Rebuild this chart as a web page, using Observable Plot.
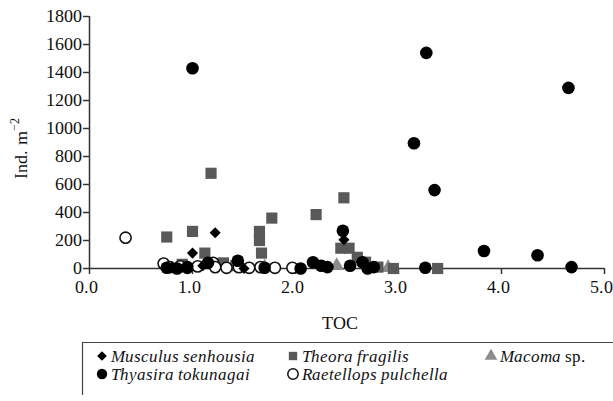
<!DOCTYPE html>
<html><head><meta charset="utf-8">
<script src="https://cdn.jsdelivr.net/npm/d3@7"></script>
<script src="https://cdn.jsdelivr.net/npm/@observablehq/plot@0.6"></script>
<style>
@font-face{font-family:"RefSerif";src:local("Liberation Serif"),local("LiberationSerif");font-style:normal;font-weight:400}
@font-face{font-family:"RefSerif";src:local("Liberation Serif Italic"),local("LiberationSerif-Italic");font-style:italic;font-weight:400}
</style>
</head><body style="margin:0">
<div id="wrap" style="position:relative;width:613px;height:401px">
<svg id="legend" width="613" height="401" style="position:absolute;left:0;top:0">
  <path d="M82.5,395 V342.5 H613" fill="none" stroke="#444" stroke-width="1.2"></path>
  <text x="111" y="362" font-family="RefSerif, Liberation Serif, serif" font-size="17" fill="#111"><tspan font-style="italic">Musculus senhousia</tspan></text>
  <text x="302" y="362" font-family="RefSerif, Liberation Serif, serif" font-size="17" fill="#111"><tspan font-style="italic">Theora fragilis</tspan></text>
  <text x="500" y="362" font-family="RefSerif, Liberation Serif, serif" font-size="17" fill="#111"><tspan font-style="italic">Macoma</tspan> sp.</text>
  <text x="111" y="380" font-family="RefSerif, Liberation Serif, serif" font-size="17" fill="#111"><tspan font-style="italic">Thyasira tokunagai</tspan></text>
  <text x="302" y="380" font-family="RefSerif, Liberation Serif, serif" font-size="17" fill="#111"><tspan font-style="italic">Raetellops pulchella</tspan></text>
  <text x="340" y="329" text-anchor="middle" font-family="RefSerif, Liberation Serif, serif" font-size="18" fill="#111">TOC</text>
</svg>
</div>
<script>
// Data
const xTicks = [0, 1, 2, 3, 4, 5];
const yTicks = [0, 200, 400, 600, 800, 1000, 1200, 1400, 1600, 1800];

const musculusTOC = [1.22, 1.0, 2.47, 0.8, 1.1, 1.5, 2.3];
const musculusInd = [255, 110, 205, 10, 20, 0, 5];

const theoraTOC = [0.75, 1.0, 1.18, 1.12, 1.65, 1.65, 1.67, 1.77, 2.2, 2.47, 2.44, 2.52, 2.6, 2.68, 2.8, 2.95, 3.38, 1.3, 1.42, 0.9];
const theoraInd = [225, 265, 680, 110, 265, 200, 110, 360, 385, 505, 145, 145, 80, 45, 10, 0, 0, 40, 20, 30];

const macomaTOC = [1.25, 1.7, 2.4, 2.9];
const macomaInd = [20, 10, 20, 5];

const thyasiraTOC = [1.0, 3.27, 4.65, 3.15, 3.35, 3.83, 4.35, 4.68, 3.26, 2.46, 2.17, 2.31, 2.53, 2.65, 2.76, 1.44, 0.75, 0.85, 0.95, 1.15, 1.7, 2.05, 2.25, 2.7];
const thyasiraInd = [1430, 1540, 1290, 895, 560, 125, 95, 10, 5, 270, 45, 10, 20, 45, 10, 55, 5, 0, 10, 40, 5, 0, 20, 0];

const raetellopsTOC = [0.35, 0.72, 0.78, 0.88, 0.95, 1.05, 1.2, 1.22, 1.33, 1.45, 1.55, 1.66, 1.8, 1.97];
const raetellopsInd = [220, 35, 10, 15, 5, 15, 40, 10, 5, 10, 5, 10, 5, 5];

const toRows = (xs, ys) => xs.map((x, i) => ({x, y: ys[i]}));

const FONT = "RefSerif, Liberation Serif, serif";
const axisColor = "#333";
const plot = Plot.plot({
  width: 613,
  height: 340,
  marginLeft: 89,
  marginRight: 9,
  marginTop: 16,
  marginBottom: 72,
  style: {fontFamily: FONT, fontSize: "18px", color: "#111"},
  x: {domain: [0, 5]},
  y: {domain: [0, 1800]},
  marks: [
    Plot.axisX({ticks: xTicks, tickFormat: d3.format(".1f"), tickSize: 6, tickPadding: 6, label: null, stroke: axisColor, strokeWidth: 1.5, fontSize: 18}),
    Plot.axisY({ticks: yTicks, tickFormat: d3.format("d"), tickSize: 6, tickPadding: 2, label: null, stroke: axisColor, strokeWidth: 1.5, fontSize: 18}),
    Plot.ruleX([0], {stroke: axisColor, strokeWidth: 1.5}),
    Plot.ruleY([0], {stroke: axisColor, strokeWidth: 1.5}),
    Plot.dot(toRows(macomaTOC, macomaInd), {x: "x", y: "y", symbol: "triangle", r: 5.5, fill: "#8c8c8c", stroke: "none"}),
    Plot.dot(toRows(theoraTOC, theoraInd), {x: "x", y: "y", symbol: "square", r: 6.3, fill: "#595959", stroke: "none"}),
    Plot.dot(toRows(raetellopsTOC, raetellopsInd), {x: "x", y: "y", symbol: "circle", r: 5.6, fill: "#fff", stroke: "#111", strokeWidth: 1.6}),
    Plot.dot(toRows(musculusTOC, musculusInd), {x: "x", y: "y", symbol: "diamond2", r: 5, fill: "#000", stroke: "none"}),
    Plot.dot(toRows(thyasiraTOC, thyasiraInd), {x: "x", y: "y", symbol: "circle", r: 6.3, fill: "#000", stroke: "none"})
  ]
});
const wrap = document.getElementById("wrap");
wrap.insertBefore(plot, wrap.firstChild);

const svg = d3.select(plot);
svg.attr("font-family", FONT);
svg.selectAll("text").attr("font-family", FONT);
svg.selectAll("g[aria-label='x-axis tick label'] text").attr("dx", -3);
// y-axis title with superscript
const yl = svg.append("text")
  .attr("transform", "translate(27,148) rotate(-90)")
  .attr("text-anchor", "middle")
  .attr("font-family", FONT)
  .attr("font-size", 18)
  .attr("fill", "#111");
yl.append("tspan").text("Ind. m");
yl.append("tspan").attr("dy", -8).attr("font-size", 12).text("−2");

// Legend symbols
const legendSymbols = [
  {sym: d3.symbolDiamond2, size: 60, fill: "#000", stroke: "none", col: 0, row: 0},
  {sym: d3.symbolSquare, size: 70, fill: "#595959", stroke: "none", col: 1, row: 0},
  {sym: d3.symbolTriangle, size: 70, fill: "#8c8c8c", stroke: "none", col: 2, row: 0},
  {sym: d3.symbolCircle, size: Math.PI * 5.2 * 5.2, fill: "#000", stroke: "none", col: 0, row: 1},
  {sym: d3.symbolCircle, size: Math.PI * 5.2 * 5.2, fill: "#fff", stroke: "#111", col: 1, row: 1}
];
const colX = [102, 293, 491];
const rowY = [356, 374];
const lg = d3.select("#legend");
for (const it of legendSymbols) {
  lg.append("path").attr("d", d3.symbol(it.sym, it.size)())
    .attr("transform", `translate(${colX[it.col]},${rowY[it.row]})`)
    .attr("fill", it.fill).attr("stroke", it.stroke).attr("stroke-width", 1.5);
}
</script>
</body></html>
